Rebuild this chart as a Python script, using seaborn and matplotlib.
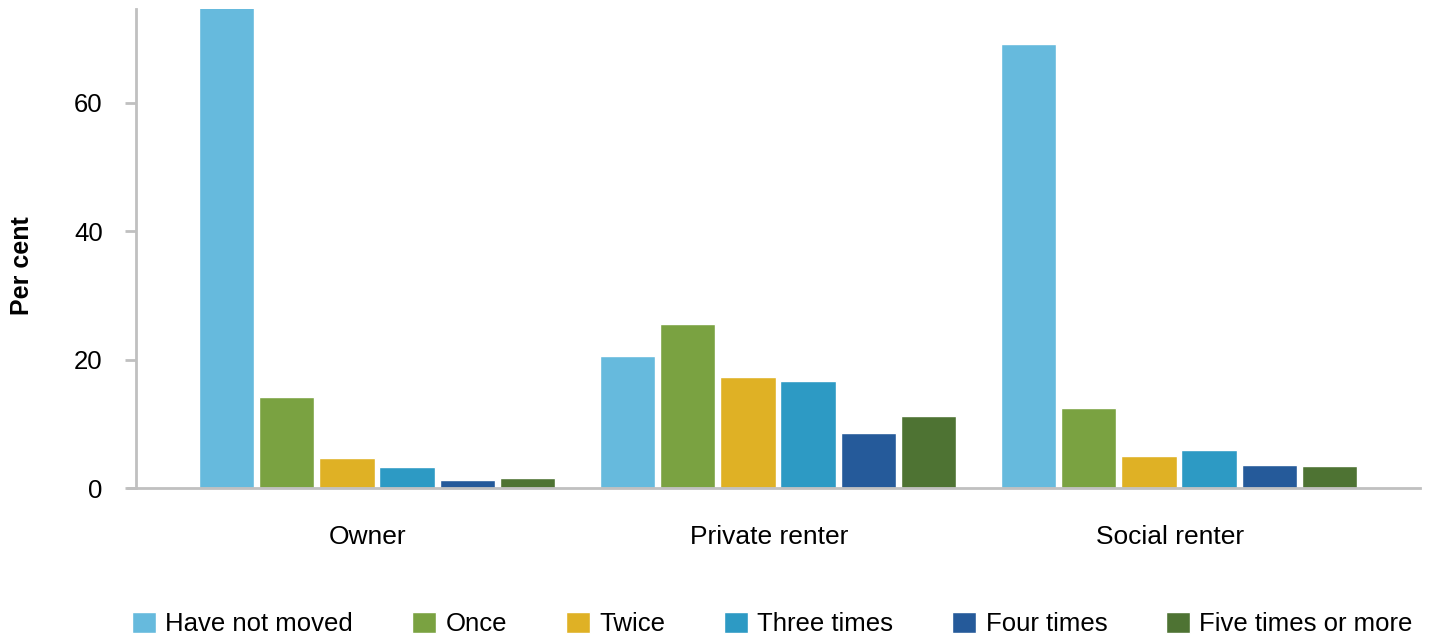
import matplotlib
matplotlib.use("Agg")
import matplotlib.pyplot as plt
import matplotlib.transforms as mtransforms
import seaborn as sns
import pandas as pd

tenures = ["Owner", "Private renter", "Social renter"]
moves = ["Have not moved", "Once", "Twice", "Three times", "Four times", "Five times or more"]
colors = ["#66BADD", "#7AA241", "#DFB125", "#2D9AC4", "#255A9A", "#4E7333"]
owner = [75.0, 14.2, 4.7, 3.3, 1.3, 1.6]
private_renter = [20.6, 25.6, 17.3, 16.7, 8.6, 11.2]
social_renter = [69.2, 12.5, 5.0, 5.9, 3.6, 3.4]

rows = []
for t, vals in zip(tenures, [owner, private_renter, social_renter]):
    for m, v in zip(moves, vals):
        rows.append({"tenure": t, "move": m, "value": v})
df = pd.DataFrame(rows)

sns.set_style("white")
plt.rcParams['font.family'] = ['Liberation Sans', 'DejaVu Sans']
plt.rcParams['text.color'] = 'black'
plt.rcParams['xtick.color'] = 'black'
plt.rcParams['ytick.color'] = 'black'

W, H = 1429, 634
fig = plt.figure(figsize=(W/100, H/100), dpi=100)
ax = fig.add_axes([136/W, 1-488/H, (1420-136)/W, (488-9)/H])
sns.barplot(data=df, x="tenure", y="value", hue="move", order=tenures, hue_order=moves,
            palette=colors, width=0.9, gap=0.08, saturation=1, ax=ax, legend=True)

ax.set_ylim(0, 74.6)
ax.set_xlim(-0.601, 2.601)
ax.set_yticks([0, 20, 40, 60])
ax.set_xlabel("")
ax.set_ylabel("")
for s in ["top", "right"]:
    ax.spines[s].set_visible(False)
for s in ["left", "bottom"]:
    ax.spines[s].set_color("#C0C0C0")
    ax.spines[s].set_linewidth(2)
ax.spines["bottom"].set_bounds(-0.62, 2.601)
ax.tick_params(axis="y", length=8, width=2, color="#C0C0C0", labelsize=18.5, pad=16, left=True,
               labelcolor="black")
ax.tick_params(axis="x", length=0, labelsize=19, pad=27, labelcolor="black")
offset = mtransforms.ScaledTranslation(-9/100, 0, fig.dpi_scale_trans)
for lbl in ax.get_xticklabels():
    lbl.set_transform(lbl.get_transform() + offset)

fig.text(22/W, 1-266/H, "Per cent", rotation=90, ha="center", va="center",
         fontsize=18, fontweight="bold", color="black")

h, l = ax.get_legend_handles_labels()
ax.get_legend().remove()
fig.legend(h, l, loc="center", bbox_to_anchor=(0.5406, 1-624/H), ncol=6, frameon=False,
           fontsize=18.5, handlelength=0.93, handleheight=0.93, handletextpad=0.36,
           columnspacing=2.3, borderpad=0, borderaxespad=0)

fig.savefig("out.png", dpi=100)
